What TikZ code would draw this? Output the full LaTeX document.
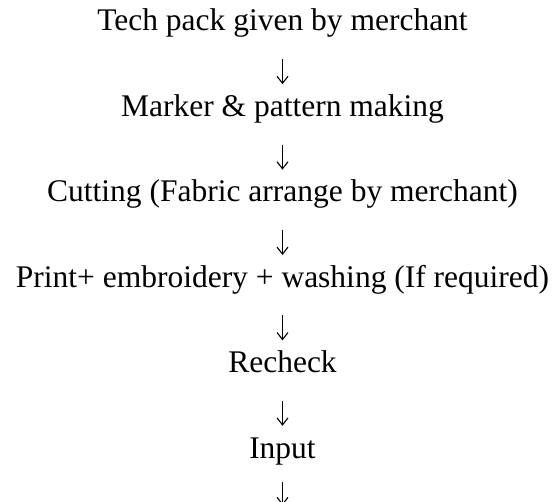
\documentclass[tikz,border=0pt]{standalone}
\usepackage{fontspec}
\setmainfont{Liberation Serif}
\usepackage{tikz}
\usetikzlibrary{arrows.meta, positioning}
\tikzset{
  stage/.style={anchor=base, inner sep=0pt, text height=22bp, text depth=0pt,
    font=\fontsize{31.5bp}{38bp}\selectfont},
  arrow/.style={-{Straight Barb[length=7bp, width=11bp, line width=1.1bp]}, line width=1.1bp,
    shorten <=28bp, shorten >=10bp}
}

\begin{document}
\begin{tikzpicture}[x=1bp, y=1bp]
  \useasboundingbox (0,0) rectangle (556,-502);

  % Stages
  \node[stage] (tech) at (282.5,-31) {Tech pack given by merchant};
  \node[stage, below=63bp of tech.south] (marker) {Marker \& pattern making};
  \node[stage, below=63bp of marker.south] (cut) {Cutting (Fabric arrange by merchant)};
  \node[stage, below=63bp of cut.south] (print) {Print+ embroidery + washing (If required)};
  \node[stage, below=63bp of print.south] (recheck) {Recheck};
  \node[stage, below=63bp of recheck.south] (input) {Input};
  \coordinate (next) at ([yshift=-47bp]input.south);

  % Arrows
  \draw[arrow] (tech) -- (marker);
  \draw[arrow] (marker) -- (cut);
  \draw[arrow] (cut) -- (print);
  \draw[arrow] (print) -- (recheck);
  \draw[arrow] (recheck) -- (input);
  \draw[arrow, shorten <=24bp, shorten >=0pt] (input.south) -- (next);
\end{tikzpicture}
\end{document}
